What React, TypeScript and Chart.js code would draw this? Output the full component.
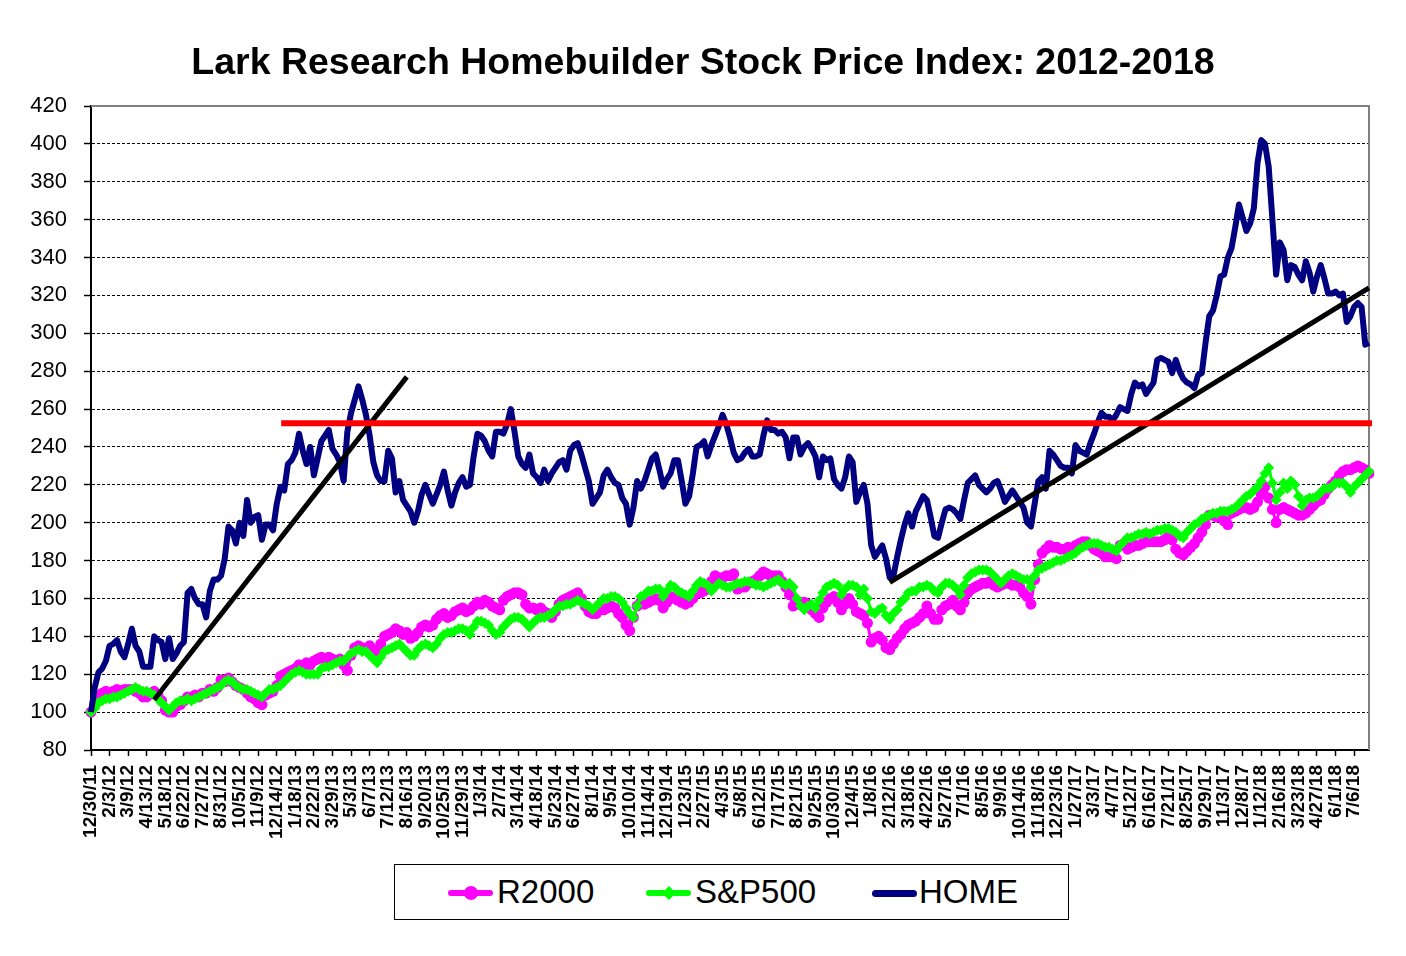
import { useEffect, useRef } from "react";
import { Chart, registerables } from "chart.js";

Chart.register(...registerables);

// weekly closes, rebased to 100 on 12/30/11
const startWeek = Date.UTC(2011, 11, 30);
const weekCount = 345;

const chartTitle = "Lark Research Homebuilder Stock Price Index: 2012-2018";

const tickLabels = [
  "12/30/11", "2/3/12", "3/9/12", "4/13/12", "5/18/12", "6/22/12", "7/27/12", "8/31/12", "10/5/12", "11/9/12",
  "12/14/12", "1/18/13", "2/22/13", "3/29/13", "5/3/13", "6/7/13", "7/12/13", "8/16/13", "9/20/13", "10/25/13",
  "11/29/13", "1/3/14", "2/7/14", "3/14/14", "4/18/14", "5/23/14", "6/27/14", "8/1/14", "9/5/14", "10/10/14",
  "11/14/14", "12/19/14", "1/23/15", "2/27/15", "4/3/15", "5/8/15", "6/12/15", "7/17/15", "8/21/15", "9/25/15",
  "10/30/15", "12/4/15", "1/8/16", "2/12/16", "3/18/16", "4/22/16", "5/27/16", "7/1/16", "8/5/16", "9/9/16",
  "10/14/16", "11/18/16", "12/23/16", "1/27/17", "3/3/17", "4/7/17", "5/12/17", "6/16/17", "7/21/17", "8/25/17",
  "9/29/17", "11/3/17", "12/8/17", "1/12/18", "2/16/18", "3/23/18", "4/27/18", "6/1/18", "7/6/18",
];

const r2000 = [
  100, 104, 107, 110, 111, 110, 111, 112, 111, 112,
  112, 112, 111, 110, 108, 108, 110, 111, 109, 106,
  101, 100, 100, 103, 104, 106, 108, 107, 109, 108,
  110, 110, 112, 111, 113, 117, 116, 118, 116, 114,
  113, 112, 110, 108, 107, 105, 104, 109, 110, 111,
  114, 119, 120, 121, 122, 123, 125, 124, 126, 125,
  127, 128, 129, 128, 129, 128, 127, 128, 125, 122,
  130, 134, 135, 134, 133, 135, 133, 131, 136, 140,
  141, 142, 144, 143, 141, 142, 139, 140, 142, 145,
  146, 145, 146, 149, 151, 152, 150, 151, 153, 154,
  155, 153, 154, 156, 158, 157, 159, 158, 156, 155,
  154, 159, 161, 162, 163, 163, 162, 157, 155, 155,
  154, 155, 153, 152, 150, 153, 157, 159, 160, 161,
  162, 163, 160, 156, 153, 152, 152, 154, 154, 155,
  156, 155, 152, 150, 146, 143, 150, 156, 158, 157,
  158, 159, 160, 159, 155, 158, 161, 160, 159, 158,
  157, 158, 160, 163, 163, 164, 165, 169, 172, 171,
  171, 172, 172, 173, 165, 166, 166, 168, 169, 170,
  172, 174, 173, 172, 172, 172, 169, 166, 162, 156,
  157, 158, 158, 157, 154, 152, 150, 155, 158, 160,
  161, 158, 154, 157, 160, 157, 153, 152, 151, 147,
  137, 139, 140, 138, 134, 133, 136, 139, 141, 144,
  146, 147, 148, 150, 152, 156, 152, 149, 149, 154,
  156, 157, 159, 156, 154, 158, 163, 165, 166, 167,
  168, 168, 169, 167, 166, 167, 168, 168, 167, 167,
  166, 163, 161, 157, 170, 178, 184, 186, 188, 187,
  187, 186, 186, 187, 186, 188, 189, 190, 190, 188,
  186, 185, 184, 182, 182, 182, 181, 188, 189, 186,
  187, 188, 188, 189, 190, 190, 190, 190, 190, 191,
  193, 191, 186, 184, 183, 185, 187, 189, 192, 195,
  199, 204, 204, 203, 203, 201, 199, 205, 206, 207,
  208, 208, 207, 208, 211, 215, 219, 213, 207, 200,
  207, 208, 207, 206, 205, 204, 204, 205, 207, 209,
  211, 212, 215, 218, 220, 222, 225, 227, 228, 228,
  229, 230, 229, 228, 226,
];

const sp500 = [
  100, 102, 105, 106, 107, 107, 108, 108, 109, 110,
  111, 112, 113, 112, 111, 111, 110, 109, 107, 105,
  103, 101, 103, 105, 106, 106, 107, 106, 107, 108,
  109, 110, 111, 112, 113, 114, 116, 117, 116, 114,
  113, 112, 112, 111, 110, 109, 108, 110, 112, 112,
  113, 114, 116, 118, 120, 121, 122, 121, 120, 120,
  120, 120, 123, 124, 124, 125, 126, 127, 127, 129,
  131, 132, 133, 132, 132, 130, 128, 126, 129, 132,
  133, 134, 135, 136, 134, 132, 130, 130, 133, 135,
  136, 135, 134, 136, 139, 141, 142, 142, 143, 144,
  144, 143, 141, 145, 148, 148, 147, 146, 143, 141,
  142, 145, 147, 149, 150, 150, 149, 147, 145, 147,
  149, 150, 150, 151, 152, 154, 156, 156, 157, 157,
  158, 159, 158, 157, 156, 154, 156, 158, 160, 160,
  161, 161, 160, 158, 155, 152, 150, 156, 161, 162,
  164, 164, 165, 165, 161, 164, 167, 166, 164, 163,
  162, 161, 164, 167, 169, 168, 167, 164, 166, 168,
  167, 166, 166, 167, 168, 168, 169, 169, 168, 167,
  167, 166, 167, 168, 169, 170, 168, 167, 168, 166,
  160, 156, 154, 156, 157, 155, 159, 163, 166, 167,
  168, 167, 162, 165, 167, 167, 166, 162, 165, 160,
  153, 152, 154, 155, 151, 149, 152, 154, 158, 160,
  163, 164, 164, 166, 166, 167, 166, 164, 163, 166,
  168, 168, 167, 165, 162, 167, 171, 173, 174, 175,
  175, 175, 174, 172, 170, 168, 170, 172, 173, 172,
  171, 170, 170, 166, 172, 175, 176, 177, 178, 179,
  180, 180, 181, 182, 183, 184, 186, 187, 188, 189,
  189, 189, 188, 187, 187, 186, 185, 188, 190, 192,
  192, 193, 194, 194, 195, 194, 195, 196, 196, 197,
  197, 196, 195, 193, 192, 195, 197, 199, 200, 202,
  203, 204, 205, 205, 206, 206, 206, 207, 208, 210,
  212, 214, 215, 217, 219, 222, 226, 229, 221, 212,
  216, 221, 218, 222, 220, 214, 209, 212, 213, 213,
  214, 216, 218, 218, 219, 221, 221, 221, 219, 216,
  219, 221, 223, 225, 227,
];

const home = [
  100, 113, 121, 123, 127, 135, 136, 138, 132, 129,
  136, 144, 135, 132, 124, 124, 124, 140, 138, 137,
  128, 139, 128, 131, 135, 137, 163, 165, 160, 157,
  157, 150, 164, 170, 170, 172, 181, 198, 196, 189,
  200, 193, 212, 200, 203, 204, 191, 199, 199, 196,
  210, 219, 217, 231, 233, 237, 247, 238, 231, 240,
  225, 234, 243, 246, 249, 239, 236, 232, 222, 248,
  258, 265, 272, 265, 257, 246, 232, 225, 222, 222,
  238, 234, 216, 222, 212, 209, 206, 200, 206, 215,
  220, 215, 210, 215, 220, 227, 217, 209, 216, 221,
  224, 219, 220, 235, 247, 246, 243, 238, 235, 248,
  248, 247, 252, 260, 248, 235, 231, 229, 236, 226,
  224, 221, 228, 222, 226, 229, 232, 233, 228, 238,
  241, 242, 236, 229, 222, 210, 213, 216, 225, 228,
  224, 221, 220, 213, 210, 199, 208, 222, 218, 222,
  228, 234, 236, 228, 219, 223, 226, 233, 233, 222,
  210, 214, 226, 240, 241, 243, 235, 241, 246, 251,
  257, 252, 245, 237, 233, 234, 237, 239, 235, 235,
  236, 246, 254, 249, 249, 247, 248, 245, 234, 245,
  245, 236, 240, 242, 239, 235, 224, 235, 233, 234,
  223, 220, 218, 224, 235, 232, 211, 216, 220, 210,
  188, 182, 185, 188, 181, 171, 172, 182, 191, 199,
  205, 198, 206, 210, 214, 212, 203, 193, 192, 200,
  207, 208, 207, 205, 202, 212, 221, 223, 225, 220,
  218, 216, 218, 221, 222, 217, 211, 214, 217, 214,
  211, 208, 200, 198, 210, 222, 224, 218, 238, 236,
  233, 230, 229, 229, 226, 241, 238, 237, 236, 242,
  247, 253, 258, 256, 256, 254, 257, 261, 260, 259,
  268, 274, 272, 273, 268, 271, 274, 286, 287, 286,
  285, 279, 286, 280, 276, 274, 273, 271, 278, 279,
  295, 309, 312, 320, 330, 331, 340, 345, 356, 368,
  361, 354, 358, 366, 390, 402, 400, 388, 360, 331,
  348, 344, 328, 336, 335, 331, 328, 338, 332, 322,
  330, 336, 329, 321, 321, 322, 320, 321, 306, 309,
  314, 316, 314, 294, 295,
];

// hand-drawn lines on the original: [week index, level]
const resistanceLine = [[52, 252.5], [344, 252.5]];
const trend2013 = [[17, 106.5], [85, 277]];
const trend2016 = [[215, 168.5], [344, 324]];

const weeks = Array.from({ length: weekCount }, (_, i) => {
  const d = new Date(startWeek + i * 7 * 86400000);
  return `${d.getUTCMonth() + 1}/${d.getUTCDate()}/${String(d.getUTCFullYear()).slice(2)}`;
});

const segment = (ends: number[][]) =>
  weeks.map((_, i) => {
    const hit = ends.find((e) => e[0] === i);
    return hit ? hit[1] : null;
  });

const FONT = "'Liberation Sans', Arial, Helvetica, sans-serif";

const plotFrame = {
  id: "plotFrame",
  beforeDatasetsDraw(chart: Chart) {
    const { ctx, chartArea } = chart;
    ctx.save();
    ctx.strokeStyle = "#808080";
    ctx.lineWidth = 2;
    ctx.beginPath();
    ctx.moveTo(chartArea.left, chartArea.top);
    ctx.lineTo(chartArea.right, chartArea.top);
    ctx.lineTo(chartArea.right, chartArea.bottom);
    ctx.stroke();
    ctx.restore();
  },
};

const lineOnly = {
  pointRadius: 0,
  pointHoverRadius: 0,
  spanGaps: true,
  tension: 0,
};

const HomebuilderChart = () => {
  const canvasRef = useRef<HTMLCanvasElement>(null);

  useEffect(() => {
    if (!canvasRef.current) return;
    const ctx = canvasRef.current.getContext("2d");
    if (!ctx) return;

    Chart.defaults.font.family = FONT;
    Chart.defaults.color = "#000";

    const chart = new Chart(ctx, {
      type: "line",
      data: {
        labels: weeks,
        datasets: [
          {
            label: "resistance",
            data: segment(resistanceLine),
            borderColor: "#FF0000",
            borderWidth: 6,
            borderCapStyle: "square",
            ...lineOnly,
          },
          {
            label: "trend 2013",
            data: segment(trend2013),
            borderColor: "#000",
            borderWidth: 5,
            ...lineOnly,
          },
          {
            label: "trend 2016",
            data: segment(trend2016),
            borderColor: "#000",
            borderWidth: 5,
            ...lineOnly,
          },
          {
            label: "HOME",
            data: home,
            borderColor: "#000080",
            borderWidth: 6,
            borderJoinStyle: "round",
            ...lineOnly,
          },
          {
            label: "S&P500",
            data: sp500,
            borderColor: "#00FF00",
            backgroundColor: "#00FF00",
            borderWidth: 3,
            pointStyle: "rectRot",
            pointRadius: 5.5,
            pointBorderWidth: 0,
            tension: 0,
          },
          {
            label: "R2000",
            data: r2000,
            borderColor: "#FF00FF",
            backgroundColor: "#FF00FF",
            borderWidth: 3,
            pointStyle: "circle",
            pointRadius: 5.5,
            pointBorderWidth: 0,
            tension: 0,
          },
        ],
      },
      options: {
        animation: false,
        responsive: true,
        maintainAspectRatio: false,
        events: [],
        layout: { padding: { left: 0, right: 29, top: 98, bottom: 0 } },
        plugins: {
          legend: { display: false },
          tooltip: { enabled: false },
          title: { display: false },
        },
        scales: {
          x: {
            type: "category",
            offset: false,
            afterFit: (scale) => {
              scale.height = 198;
            },
            grid: {
              drawOnChartArea: false,
              drawTicks: true,
              tickLength: 6,
              tickColor: "#000",
              tickWidth: 1.5,
              color: "#000",
            },
            border: { display: true, color: "#000", width: 2 },
            ticks: {
              autoSkip: false,
              minRotation: 90,
              maxRotation: 90,
              padding: 9,
              color: "#000",
              font: { size: 19, weight: "bold", family: FONT },
              callback: (_value, index) => (index % 5 === 0 ? tickLabels[index / 5] ?? null : null),
            },
          },
          y: {
            min: 80,
            max: 420,
            afterFit: (scale) => {
              scale.width = 83;
            },
            grid: {
              color: "#000",
              lineWidth: 1,
              tickLength: 7,
              tickColor: "#000",
              tickWidth: 1.5,
              tickBorderDash: [],
            },
            border: { display: true, color: "#000", width: 2, dash: [3, 2] },
            ticks: {
              stepSize: 20,
              padding: 17,
              color: "#000",
              font: { size: 22, family: FONT },
            },
          },
        },
      },
      plugins: [plotFrame],
    });

    return () => chart.destroy();
  }, []);

  return <canvas ref={canvasRef}></canvas>;
};

const legendEntries = [
  { label: "R2000", color: "#FF00FF", marker: "circle", lineLeft: 53, textLeft: 102 },
  { label: "S&P500", color: "#00FF00", marker: "diamond", lineLeft: 251, textLeft: 300 },
  { label: "HOME", color: "#000080", marker: "none", lineLeft: 477, textLeft: 524 },
];

const Legend = () => (
  <div
    style={{
      position: "absolute",
      left: 386,
      top: 856,
      width: 673,
      height: 54,
      border: "1.5px solid #000",
      background: "#fff",
      fontFamily: FONT,
    }}
  >
    {legendEntries.map((e) => (
      <div key={e.label}>
        <div
          style={{
            position: "absolute",
            left: e.lineLeft,
            top: 25,
            width: 45,
            height: e.marker === "none" ? 7 : 6,
            borderRadius: 4,
            background: e.color,
          }}
        />
        {e.marker === "circle" && (
          <div
            style={{
              position: "absolute",
              left: e.lineLeft + 15.5,
              top: 21,
              width: 14,
              height: 14,
              borderRadius: 7,
              background: e.color,
            }}
          />
        )}
        {e.marker === "diamond" && (
          <div
            style={{
              position: "absolute",
              left: e.lineLeft + 17.5,
              top: 23,
              width: 10,
              height: 10,
              transform: "rotate(45deg)",
              background: e.color,
            }}
          />
        )}
        <div
          style={{
            position: "absolute",
            left: e.textLeft,
            top: 0,
            height: 54,
            lineHeight: "54px",
            fontSize: 33,
            color: "#000",
            whiteSpace: "nowrap",
          }}
        >
          {e.label}
        </div>
      </div>
    ))}
  </div>
);

export default function App() {
  return (
    <div style={{ position: "relative", width: 1390, height: 940 }}>
      <div
        style={{
          position: "absolute",
          left: 0,
          top: 31,
          width: 1390,
          height: 44,
          lineHeight: "44px",
          textAlign: "center",
          fontFamily: FONT,
          fontWeight: "bold",
          fontSize: 37.5,
          color: "#000",
          whiteSpace: "nowrap",
        }}
      >
        {chartTitle}
      </div>
      <HomebuilderChart />
      <Legend />
    </div>
  );
}
